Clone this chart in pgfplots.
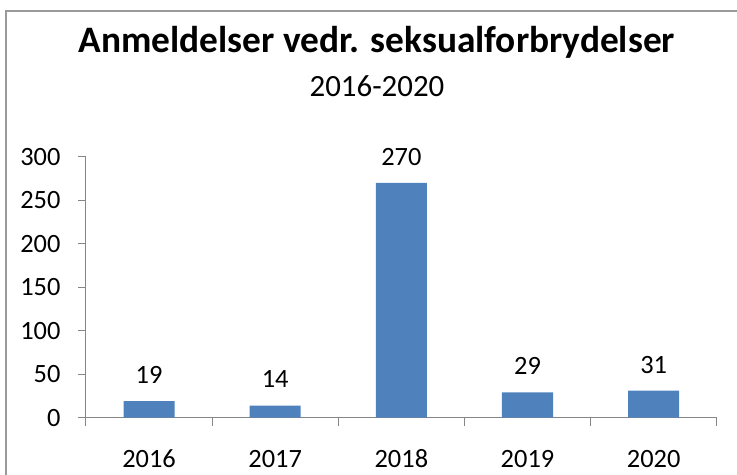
\documentclass[border=0pt]{standalone}
\usepackage{fontspec}
\setmainfont{Carlito}
\usepackage{pgfplots}
\pgfplotsset{compat=1.18}
\definecolor{barblue}{HTML}{4F81BD}
\definecolor{axgray}{HTML}{868686}
\definecolor{framegray}{HTML}{9A9A9A}

\begin{document}
\begin{tikzpicture}[x=1bp,y=1bp]
  \useasboundingbox (-86,-57.3) rectangle (651,417.7);
  \draw[framegray, line width=1.3bp] (-80,-60) -- (-80,406.7) -- (660,406.7);
  \node[font=\fontsize{37.5}{41}\selectfont\bfseries, anchor=base] at (291,364.7) {Anmeldelser vedr. seksualforbrydelser};
  \node[font=\fontsize{31}{34}\selectfont, anchor=base] at (291,320.7) {2016-2020};
  \begin{axis}[
      at={(0,0)}, anchor=south west,
      scale only axis, width=630.7bp, height=261bp,
      xmin=-0.5, xmax=4.5, ymin=0, ymax=300,
      axis x line*=bottom, axis y line*=left,
      axis line style={axgray, line width=1bp, -},
      ytick={0,50,...,300},
      xtick={-0.5,0.5,...,4.5}, xticklabels={},
      extra x ticks={0,1,2,3,4},
      extra x tick labels={2016,2017,2018,2019,2020},
      extra x tick style={major tick length=0pt},
      tick align=outside, major tick length=8bp,
      tick style={axgray, line width=1bp},
      ticklabel style={font=\fontsize{26.5}{30}\selectfont},
      xticklabel style={anchor=base, yshift=-49.5bp, text height=0.65em, text depth=0pt},
      yticklabel style={xshift=-14bp},
      /pgf/number format/assume math mode=true,
      ybar, bar width=51bp,
      nodes near coords,
      every node near coord/.append style={font=\fontsize{26.5}{30}\selectfont, yshift=14bp},
    ]
    \addplot[fill=barblue, draw=none] coordinates {(0,19) (1,14) (2,270) (3,29) (4,31)};
  \end{axis}
\end{tikzpicture}
\end{document}
